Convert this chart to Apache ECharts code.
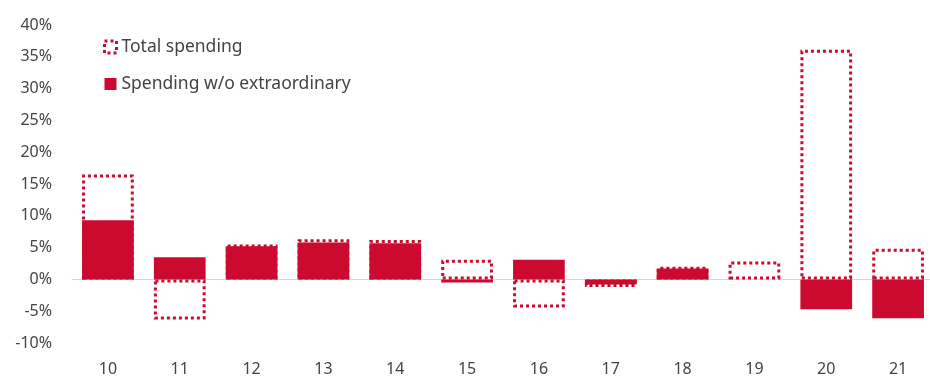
<!DOCTYPE html>
<html>
<head>
<meta charset="utf-8">
<script src="https://cdn.jsdelivr.net/npm/echarts@6/dist/echarts.min.js"></script>
<style>html,body{margin:0;padding:0;background:#fff;overflow:hidden}#c{width:940px;height:378px}</style>
</head>
<body>
<div id="c"></div>
<script>
var categories = ['10','11','12','13','14','15','16','17','18','19','20','21'];
var totalSpending = [16.5, -6.3, 5.5, 6.3, 6.2, 3.1, -4.4, -1.2, 2.0, 2.8, 36.1, 4.8];
var spendingWoExtra = [9.3, 3.5, 5.2, 5.8, 5.7, -0.5, 3.1, -0.8, 1.7, 0, -4.7, -6.1];
var yTicks = {min: -10, max: 40, interval: 5};

var red = '#cc0a2f';
var chart = echarts.init(document.getElementById('c'), null, {renderer: 'canvas'});
chart.setOption({
  animation: false,
  textStyle: {fontFamily: 'Noto Sans', color: '#444'},
  grid: {left: 72, top: 25, height: 318, width: 862},
  legend: {
    orient: 'vertical', left: 98, top: 33, itemGap: 19,
    itemWidth: 12, itemHeight: 12,
    textStyle: {fontSize: 17.5, color: '#444', fontFamily: 'Noto Sans'},
    data: [
      {name: 'Total spending', icon: 'rect', itemStyle: {color: 'rgba(0,0,0,0)', borderColor: red, borderWidth: 3, borderType: [3, 3]}},
      {name: 'Spending w/o extraordinary', icon: 'rect'}
    ]
  },
  xAxis: {
    type: 'category', data: categories,
    axisLine: {onZero: true, lineStyle: {color: '#d9d9d9', width: 1}},
    axisTick: {show: false},
    axisLabel: {fontSize: 16, color: '#444', margin: 18},
    position: 'bottom'
  },
  yAxis: {
    type: 'value', min: yTicks.min, max: yTicks.max, interval: yTicks.interval,
    axisLine: {show: false}, axisTick: {show: false}, splitLine: {show: false},
    axisLabel: {formatter: '{value}%', fontSize: 16, color: '#444', margin: 20}
  },
  series: [
    {
      name: 'Spending w/o extraordinary', type: 'bar', data: spendingWoExtra,
      barWidth: '72%', barGap: '-100%',
      itemStyle: {color: red}, z: 2
    },
    {
      name: 'Total spending', type: 'bar', data: totalSpending,
      barWidth: '72%', barGap: '-100%',
      itemStyle: {color: 'rgba(0,0,0,0)', borderColor: red, borderWidth: 3, borderType: [3, 3]}, z: 3
    }
  ]
});
</script>
</body>
</html>
